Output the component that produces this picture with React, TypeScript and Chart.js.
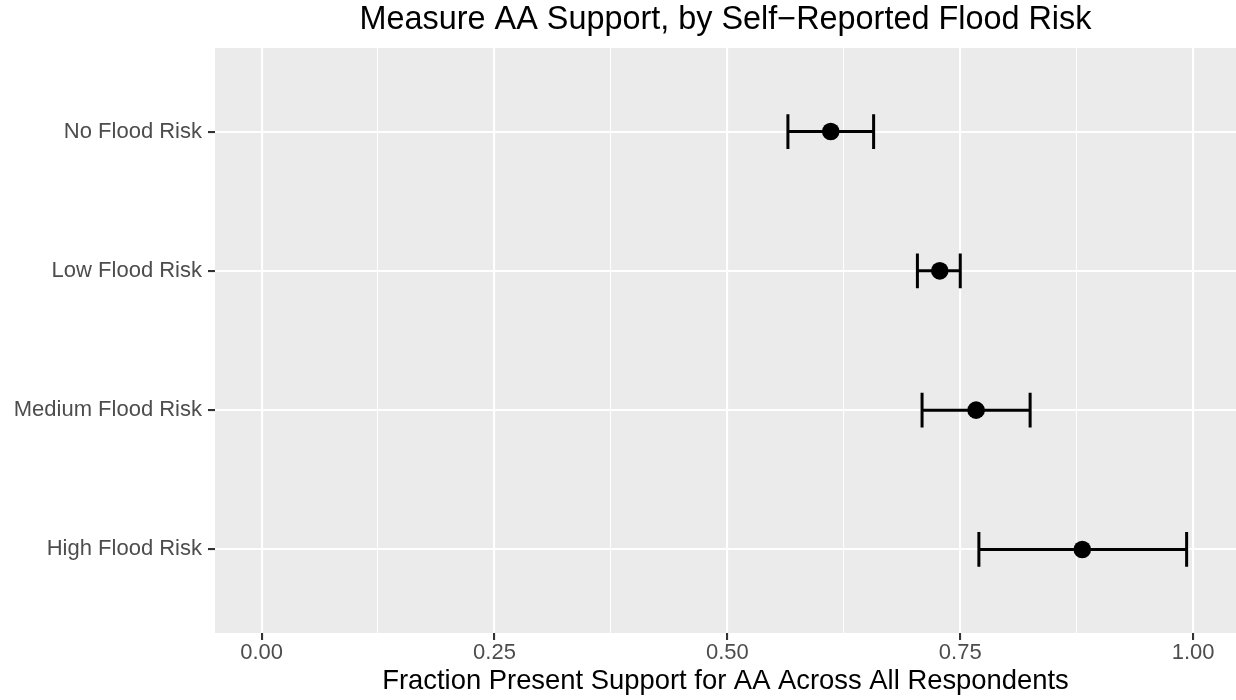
import React, { useEffect, useRef } from 'react';
import { Chart, registerables } from 'chart.js';

Chart.register(...registerables);

// ---- data ----
const categories = ['No Flood Risk', 'Low Flood Risk', 'Medium Flood Risk', 'High Flood Risk'];
const positions = [4, 3, 2, 1];
const estimates = [0.611, 0.728, 0.767, 0.881];
const lowerBounds = [0.565, 0.704, 0.709, 0.77];
const upperBounds = [0.657, 0.75, 0.825, 0.993];
const xTickValues = [0, 0.125, 0.25, 0.375, 0.5, 0.625, 0.75, 0.875, 1];
const xTickLabels = ['0.00', '', '0.25', '', '0.50', '', '0.75', '', '1.00'];
const capHalfWidth = 0.125;

const titleText = 'Measure AA Support, by Self\u2212Reported Flood Risk';
const xTitleText = 'Fraction Present Support for AA Across All Respondents';

const FONT = "'Liberation Sans', Arial, Helvetica, sans-serif";

const panelBg = {
  id: 'panelBg',
  beforeDraw(chart: any) {
    const { ctx, chartArea } = chart;
    ctx.save();
    ctx.fillStyle = '#EBEBEB';
    ctx.fillRect(chartArea.left, chartArea.top, chartArea.right - chartArea.left, chartArea.bottom - chartArea.top);
    ctx.restore();
  },
};

export default function App() {
  const canvasRef = useRef<HTMLCanvasElement | null>(null);

  useEffect(() => {
    if (!canvasRef.current) return;

    const pointData = estimates.map((v, i) => ({ x: v, y: positions[i] }));
    const errorData: any[] = [];
    categories.forEach((_, i) => {
      const y = positions[i];
      const lo = lowerBounds[i];
      const hi = upperBounds[i];
      errorData.push({ x: lo, y: y - capHalfWidth }, { x: lo, y: y + capHalfWidth }, { x: lo, y: null });
      errorData.push({ x: lo, y: y }, { x: hi, y: y }, { x: hi, y: null });
      errorData.push({ x: hi, y: y - capHalfWidth }, { x: hi, y: y + capHalfWidth }, { x: hi, y: null });
    });

    const chart = new Chart(canvasRef.current, {
      type: 'scatter',
      data: {
        datasets: [
          {
            label: 'Estimate',
            data: pointData,
            backgroundColor: '#000000',
            borderColor: '#000000',
            pointRadius: 8.8,
            pointBorderWidth: 0,
            order: 0,
          },
          {
            label: 'Interval',
            data: errorData,
            showLine: true,
            spanGaps: false,
            borderColor: '#000000',
            borderWidth: 3,
            pointRadius: 0,
            borderCapStyle: 'butt',
            tension: 0,
            order: 1,
          } as any,
        ],
      },
      options: {
        animation: false,
        responsive: false,
        events: [],
        layout: { padding: 0, autoPadding: false } as any,
        plugins: {
          legend: { display: false },
          tooltip: { enabled: false },
          title: {
            display: true,
            text: titleText,
            fullSize: false,
            color: '#000000',
            font: { family: FONT, size: 32.4, weight: 'normal', lineHeight: 1.2 },
            padding: { top: 0.6, bottom: 8.5 },
          } as any,
        },
        scales: {
          x: {
            type: 'linear',
            min: -0.05,
            max: 1.046,
            afterBuildTicks: (scale: any) => {
              scale.ticks = xTickValues.map((v) => ({ value: v }));
            },
            afterFit: (scale: any) => {
              scale.height = 67;
              scale.paddingLeft = 0;
              scale.paddingRight = 0;
            },
            border: { display: false },
            grid: {
              color: '#FFFFFF',
              lineWidth: (ctx: any) => (ctx.index % 2 === 0 ? 2.1 : 1.05),
              tickLength: 7,
              tickWidth: 2.1,
              tickColor: (ctx: any) => (ctx.index % 2 === 0 ? '#333333' : 'rgba(0,0,0,0)'),
            } as any,
            ticks: {
              autoSkip: false,
              maxRotation: 0,
              padding: 0,
              color: '#4D4D4D',
              font: { family: FONT, size: 22 },
              callback: (_v: any, index: number) => xTickLabels[index],
            },
            title: {
              display: true,
              text: xTitleText,
              color: '#000000',
              font: { family: FONT, size: 27.4, lineHeight: 1.2 },
              padding: { top: 0, bottom: 2.4 },
            },
          },
          y: {
            type: 'linear',
            min: 0.4,
            max: 4.6,
            afterBuildTicks: (scale: any) => {
              scale.ticks = positions.slice().reverse().map((v) => ({ value: v }));
            },
            afterFit: (scale: any) => {
              scale.width = 215;
              scale.paddingTop = 0;
              scale.paddingBottom = 0;
            },
            border: { display: false },
            grid: {
              color: '#FFFFFF',
              lineWidth: 2.1,
              tickLength: 7,
              tickWidth: 2.1,
              tickColor: '#333333',
            } as any,
            ticks: {
              autoSkip: false,
              padding: 6,
              color: '#4D4D4D',
              font: { family: FONT, size: 22 },
              callback: (v: any) => {
                const idx = positions.indexOf(Number(v));
                return idx >= 0 ? categories[idx] : '';
              },
            },
          },
        },
      },
      plugins: [panelBg],
    });

    return () => chart.destroy();
  }, []);

  return (
    <div style={{ position: 'absolute', left: 0, top: 0, width: 1236, height: 700, background: '#FFFFFF' }}>
      <canvas ref={canvasRef} width={1236} height={700} style={{ display: 'block' }} />
    </div>
  );
}
